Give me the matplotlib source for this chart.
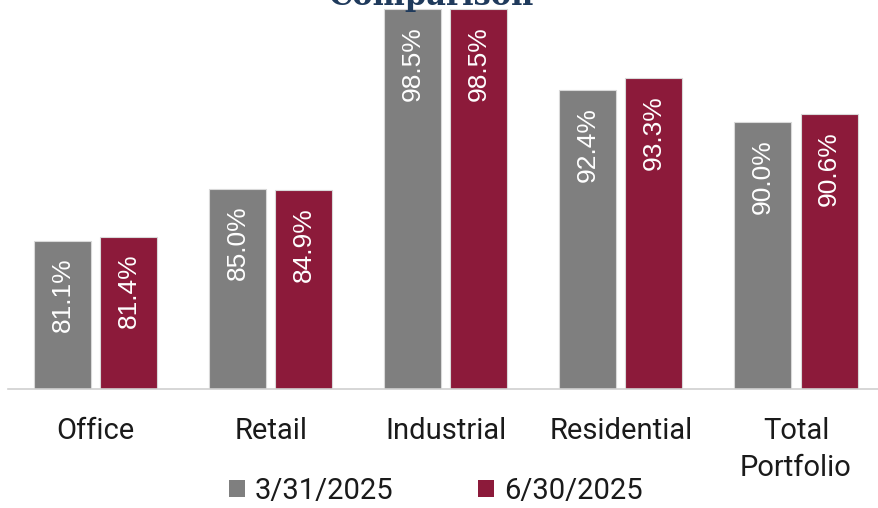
import numpy as np
import matplotlib.pyplot as plt

categories = ['Office', 'Retail', 'Industrial', 'Residential', 'Total\nPortfolio']
q1_2025 = [81.1, 85.0, 98.5, 92.4, 90.0]   # 3/31/2025
q2_2025 = [81.4, 84.9, 98.5, 93.3, 90.6]   # 6/30/2025
series_names = ['3/31/2025', '6/30/2025']

grey = '#7f7f7f'
crimson = '#8c1a3a'

fig = plt.figure(figsize=(8.79, 5.08), dpi=100)
# axes runs a little past the right edge, baseline at 70%
ax = fig.add_axes([8 / 879, 119 / 508, 875.5 / 879, 389 / 508])

x = np.arange(len(categories))
width = 0.326
offset = 0.189

b1 = ax.bar(x - offset, q1_2025, width, bottom=0, color=grey, edgecolor='#d9d9d9', linewidth=0.8)
b2 = ax.bar(x + offset, q2_2025, width, bottom=0, color=crimson, edgecolor='#d9d9d9', linewidth=0.8)

ax.set_ylim(70, 70 + 389 / 13.33)
ax.set_xlim(-0.5, 4.5)

for bars, vals in ((b1, q1_2025), (b2, q2_2025)):
    for bar, v in zip(bars, vals):
        ax.annotate(f'{v:.1f}%', (bar.get_x() + bar.get_width() / 2, v),
                    xytext=(0, -12), textcoords='offset points',
                    rotation=90, ha='center', va='top', color='white',
                    fontsize=19, family='Liberation Sans')

for s in ['top', 'right', 'left']:
    ax.spines[s].set_visible(False)
ax.spines['bottom'].set_color('#d0d0d0')
ax.spines['bottom'].set_linewidth(1.2)
ax.set_yticks([])
ax.set_xticks(x)
ax.set_xticklabels(categories, fontsize=21, family='Roboto', color='#1a1a1a', linespacing=1.4)
ax.tick_params(axis='x', length=0, pad=20)

# legend along the bottom
leg = fig.legend([b1, b2], series_names, loc='center', bbox_to_anchor=(436 / 879, 1 - 491 / 508),
                 ncol=2, frameon=False, prop={'family': 'Roboto', 'size': 21},
                 handlelength=0.55, handleheight=0.55, handletextpad=0.35, columnspacing=2.9)
for t in leg.get_texts():
    t.set_color('#1a1a1a')
for h in leg.legend_handles:
    h.set_edgecolor('none')

# title mostly above the visible area
fig.text(0.491, 1 - 5 / 508, 'Occupancy\nComparison', ha='center', va='baseline',
         fontsize=22, family='DejaVu Serif', fontweight='bold', color='#1f3a5c',
         linespacing=1.1)

fig.savefig('out.png', dpi=100)
